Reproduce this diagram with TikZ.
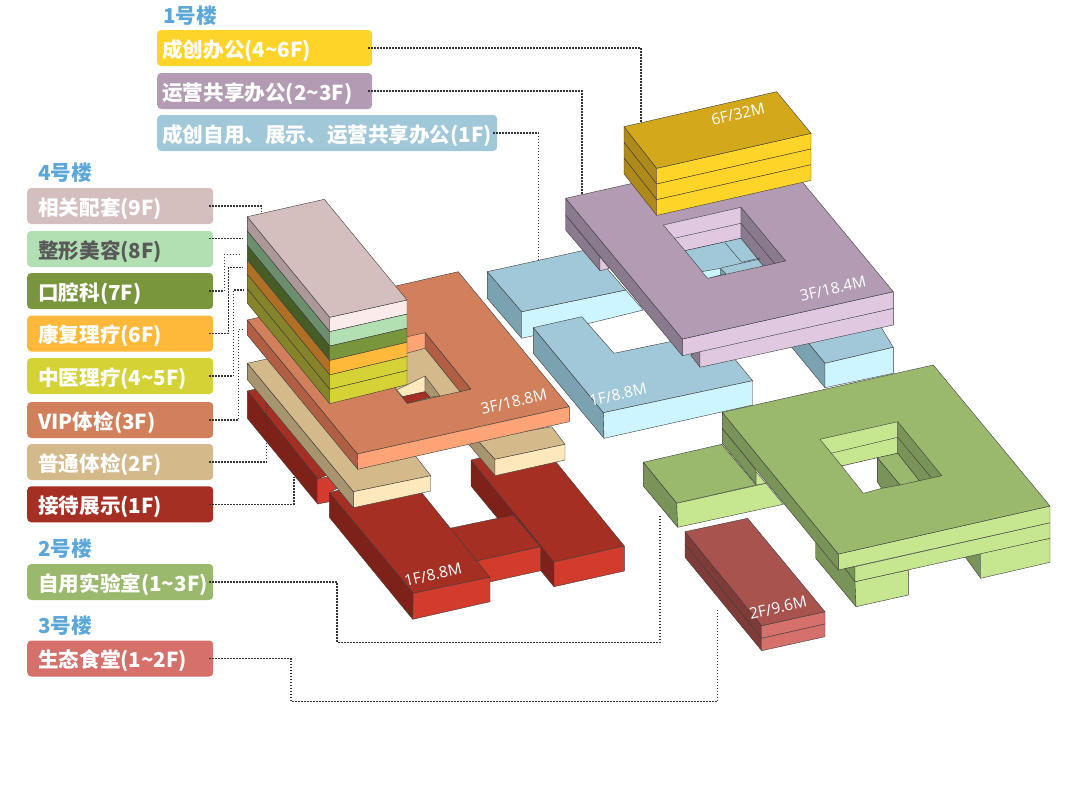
\documentclass[tikz,border=0pt]{standalone}
\usepackage{fontspec}
\setmainfont{Noto Sans CJK SC}
\newfontfamily\tagfont{Open Sans}
\definecolor{headblue}{HTML}{5BA7D8}
\definecolor{edgegray}{HTML}{3C3C3C}
\definecolor{redtop}{HTML}{A52F22}\definecolor{redleft}{HTML}{7E2219}\definecolor{redfront}{HTML}{D33B2C}
\definecolor{tantop}{HTML}{D4B98A}\definecolor{tanleft}{HTML}{A8946F}\definecolor{tanfront}{HTML}{FCE8BA}
\definecolor{corltop}{HTML}{D27F5B}\definecolor{corlleft}{HTML}{B05F45}\definecolor{corlfront}{HTML}{FFA477}
\definecolor{rosetop}{HTML}{D5BEBE}\definecolor{roseleft}{HTML}{AD9898}\definecolor{rosefront}{HTML}{FBECEB}
\definecolor{mintleft}{HTML}{6B8E6D}\definecolor{mintfront}{HTML}{B3E0B3}
\definecolor{oliveleft}{HTML}{465D26}\definecolor{olivefront}{HTML}{7A963D}
\definecolor{ambrleft}{HTML}{AF7026}\definecolor{ambrfront}{HTML}{FFB93A}
\definecolor{limeleft}{HTML}{85842A}\definecolor{limefront}{HTML}{D5D236}
\definecolor{goldtop}{HTML}{D3A81B}\definecolor{goldleft}{HTML}{AE8A1A}\definecolor{goldfront}{HTML}{FFD428}
\definecolor{plumtop}{HTML}{B39BB3}\definecolor{plumleft}{HTML}{8A7A8E}\definecolor{plumfront}{HTML}{E0C8E0}
\definecolor{skytop}{HTML}{A0C8D8}\definecolor{skyleft}{HTML}{7BA2B0}\definecolor{skyfront}{HTML}{CCF5FF}
\definecolor{leaftop}{HTML}{9BB96C}\definecolor{leafleft}{HTML}{7A9358}\definecolor{leaffront}{HTML}{C6E68F}
\definecolor{bricktop}{HTML}{A9534F}\definecolor{brickleft}{HTML}{7E3B38}\definecolor{brickfront}{HTML}{D5706A}
\tikzset{
  face/.style={draw=edgegray, line width=0.4pt, line join=round},
  tagbox/.style={rounded corners=4, anchor=west, minimum height=36, inner ysep=0, text height=20, text depth=2,
    align=left, text=white, font=\fontsize{20.6}{24}\selectfont\bfseries},
  tagleft/.style={tagbox, inner xsep=11, text width=164},
  tagtop/.style={tagbox, inner xsep=5},
  heading/.style={anchor=west, inner sep=0, text=headblue, font=\fontsize{20.6}{24}\selectfont\bfseries},
  floortag/.style={rotate=13, text=white, font=\fontsize{15.5}{18}\selectfont\tagfont},
  leader/.style={dash pattern=on 1.5pt off 1.5pt, line width=1.5pt, black!80, shorten <=-4pt},
}
\begin{document}
\begin{tikzpicture}[x=1pt,y=-1pt]
\useasboundingbox (0,0) rectangle (1080,787);

% Building 4, floor 1
\draw[face,fill=redtop] (247.3,391) -- (295,380) -- (340,470) -- (317.7,479) -- cycle;
\draw[face,fill=redleft] (247.3,391) -- (247.3,418.3) -- (317.7,504) -- (317.7,479) -- cycle;
\draw[face,fill=redfront] (317.7,479) -- (328.3,476.7) -- (337.3,488.3) -- (329.3,492.7) -- (329.3,501.7) -- (317.7,504) -- cycle;
\draw[face,fill=redleft] (471,460) -- (554,562) -- (554,586.7) -- (471,486) -- cycle;
\draw[face,fill=redtop] (450,528.3) -- (513.3,515) -- (540.7,546.7) -- (476.7,561) -- cycle;
\draw[face,fill=redfront] (476.7,561) -- (540.7,546.7) -- (540.7,570.7) -- (490.7,581.7) -- cycle;
\draw[face,fill=redtop] (471,460) -- (541.3,444) -- (624.3,546) -- (554,562) -- cycle;
\draw[face,fill=redfront] (554,562) -- (624.3,546) -- (624.3,571) -- (554,586.7) -- cycle;
\draw[face,fill=redtop] (329.3,492.7) -- (405,472) -- (490,577.3) -- (413.3,593.3) -- cycle;
\draw[face,fill=redleft] (329.3,492.7) -- (329.3,517.3) -- (412.7,619.3) -- (413.3,593.3) -- cycle;
\draw[face,fill=redfront] (413.3,593.3) -- (490,577.3) -- (490,601.7) -- (412.7,619.3) -- cycle;

% Building 4, floor 2
\draw[face,fill=tantop] (247.3,363.3) -- (330,345) -- (430.7,475.7) -- (353.3,491.7) -- cycle;
\draw[face,fill=tanleft] (247.3,363.3) -- (247.3,379.5) -- (353.3,507.7) -- (353.3,491.7) -- cycle;
\draw[face,fill=tanfront] (353.3,491.7) -- (430.7,475.7) -- (430.7,491) -- (353.3,507.7) -- cycle;
\draw[face,fill=tantop] (477,440) -- (551.7,426.7) -- (565,444.3) -- (495,459.3) -- cycle;
\draw[face,fill=tanleft] (469.3,445) -- (495,475.7) -- (495,459.3) -- (477,440) -- cycle;
\draw[face,fill=tanfront] (495,459.3) -- (565,444.3) -- (565,460) -- (495,475.7) -- cycle;

% Building 4, floor 3 and its court
\draw[face,fill=corltop] (247.3,320) -- (458.3,271.7) -- (569.3,406.7) -- (357.3,454) -- cycle;
\draw[face,fill=corlleft] (247.3,320) -- (247.3,335) -- (357.7,469.3) -- (357.3,454) -- cycle;
\draw[face,fill=corlfront] (357.3,454) -- (569.3,406.7) -- (569.3,421.7) -- (357.7,469.3) -- cycle;
\draw[face,fill=corlfront] (361.6,347) -- (425,332.7) -- (470.7,389) -- (407.3,403.3) -- cycle;
\draw[face,fill=corlleft] (425,332.7) -- (470.7,389) -- (460,391.7) -- (425,348.3) -- cycle;
\draw[face,fill=tantop] (374,362) -- (425,348.3) -- (460,391.7) -- (407.3,403.3) -- cycle;
\draw[face,fill=tanfront] (396.7,390) -- (425,376) -- (425,391.7) -- (402.7,396.7) -- cycle;
\draw[face,fill=tanleft] (425,376) -- (440,396) -- (430,397.3) -- (425,391.7) -- cycle;
\draw[face,fill=redtop] (402.7,396.7) -- (425,391.7) -- (430,397.3) -- (407.3,403.3) -- cycle;

% Building 4, tower
\foreach \i/\sidecol/\frontcol in {0/roseleft/rosefront,1/mintleft/mintfront,2/oliveleft/olivefront,
    3/ambrleft/ambrfront,4/limeleft/limefront,5/limeleft/limefront}{
  \draw[face,fill=\sidecol] (247.3,216.7+14.4*\i) -- (329.7,317.3+14.4*\i) -- (329.7,331.7+14.4*\i) -- (247.3,231.1+14.4*\i) -- cycle;
  \draw[face,fill=\frontcol] (329.7,317.3+14.4*\i) -- (407,300+14.1*\i) -- (407,314.1+14.1*\i) -- (329.7,331.7+14.4*\i) -- cycle;
}
\draw[face,fill=rosetop] (247.3,216.7) -- (324.3,199.3) -- (407,300) -- (329.7,317.3) -- cycle;

% Building 1, floor 1
\draw[face,fill=skyleft] (487.3,271.7) -- (487.3,298.3) -- (521.7,338.3) -- (521.7,311.7) -- cycle;
\draw[face,fill=skyfront] (521.7,311.7) -- (625.7,290) -- (643.3,310) -- (589.3,323.3) -- (521.7,338.3) -- cycle;
\draw[face,fill=skytop] (487.3,271.7) -- (590,249) -- (625.7,290) -- (521.7,311.7) -- cycle;
\draw[face,fill=skytop] (533.3,327.7) -- (581.7,316.7) -- (614,353.3) -- (670,341.7) -- (712,332) -- (752.7,380.7) -- (603.3,412.7) -- cycle;
\draw[face,fill=skyleft] (533.3,327.7) -- (533.3,353.3) -- (604,438.3) -- (603.3,412.7) -- cycle;
\draw[face,fill=skyfront] (603.3,412.7) -- (752.7,380.7) -- (752.7,405) -- (604,438.3) -- cycle;
\draw[face,fill=skytop] (800,333) -- (870,309) -- (893.3,347.3) -- (825,363.3) -- cycle;
\draw[face,fill=skyleft] (780,333) -- (825,387.7) -- (825,363.3) -- (800,333) -- cycle;
\draw[face,fill=skyfront] (825,363.3) -- (893.3,347.3) -- (893.3,373.3) -- (825,387.7) -- cycle;

% Building 1, floors 2 and 3
\draw[face,fill=plumleft] (565.7,215) -- (565.7,230) -- (600,270.7) -- (600,257) -- cycle;
\draw[face,fill=plumfront] (600,257) -- (609.3,268.3) -- (600,270.7) -- cycle;
\draw[face,fill=plumleft] (690.7,355) -- (700,367.3) -- (700,350) -- cycle;
\draw[face,fill=plumfront] (700,350) -- (893.3,308.3) -- (893.3,325) -- (700,367.3) -- cycle;
\draw[face,fill=plumleft] (565.7,198.3) -- (565.7,215) -- (682.3,355.7) -- (682.3,339) -- cycle;
\draw[face,fill=plumfront] (682.3,339) -- (893.3,291.7) -- (893.3,308.3) -- (682.3,355.7) -- cycle;
\draw[face,fill=plumtop] (565.7,198.3) -- (776.7,151) -- (893.3,291.7) -- (682.3,339) -- cycle;
% court
\draw[face,fill=plumfront] (663.3,225) -- (741,207.3) -- (741,238.3) -- (685,250.7) -- cycle;
\draw[face] (674.3,238.3) -- (741,223.3);
\draw[face,fill=plumleft] (741,207.3) -- (785.7,261) -- (763.3,266) -- (741,238.3) -- cycle;
\draw[face] (741,223.3) -- (775,264);
\draw[face,fill=skytop] (685,250.7) -- (741,238.3) -- (763.3,266) -- (707.7,278.3) -- cycle;
\draw[face] (725,242.7) -- (741.7,262.3) -- (760,258);
\draw[face,fill=skyfront] (701.7,271.7) -- (720.7,268.3) -- (720.7,275) -- (707.7,278.3) -- cycle;
\draw[face,fill=skyleft] (720.7,268.3) -- (726,274) -- (720.7,275) -- cycle;
\draw[face] (721.7,267.7) -- (760,259);

% Building 1, floors 4 to 6
\foreach \i in {0,1,2}{
  \draw[face,fill=goldleft] (624,126.7+15.7*\i) -- (656.7,168.3+15.7*\i) -- (656.7,184+15.7*\i) -- (624,142.4+15.7*\i) -- cycle;
  \draw[face,fill=goldfront] (656.7,168.3+15.7*\i) -- (811,133.3+15.7*\i) -- (811,149+15.7*\i) -- (656.7,184+15.7*\i) -- cycle;
}
\draw[face,fill=goldtop] (624,126.7) -- (776.7,91.7) -- (811,133.3) -- (656.7,168.3) -- cycle;

% Building 2
\draw[face,fill=leaftop] (643.3,462.3) -- (721.7,444.3) -- (756,485) -- (676.7,503.3) -- cycle;
\draw[face,fill=leafleft] (643.3,462.3) -- (643.3,486) -- (677.7,527.3) -- (676.7,503.3) -- cycle;
\draw[face,fill=leaffront] (676.7,503.3) -- (766,483.3) -- (783.3,504.3) -- (677.7,527.3) -- cycle;
\draw[face,fill=leaffront] (756,471.7) -- (766,483.3) -- (756,485) -- cycle;
\draw[face,fill=leafleft] (722.3,428.3) -- (722.3,443.3) -- (756,484) -- (756,470) -- cycle;
\draw[face,fill=leafleft] (815.7,542) -- (815.7,558.3) -- (856,606.7) -- (856,581.7) -- (845,568.3) -- cycle;
\draw[face,fill=leaffront] (855,581.7) -- (908.3,570) -- (908.3,595) -- (856,606.7) -- cycle;
\draw[face,fill=leafleft] (965,556.7) -- (980.7,553.3) -- (980.7,578.3) -- cycle;
\draw[face,fill=leaffront] (980.7,553.3) -- (1050,538.3) -- (1050,562.3) -- (980.7,578.3) -- cycle;
\draw[face,fill=leafleft] (845,568.3) -- (855,581.7) -- (855,566.7) -- cycle;
\draw[face,fill=leaffront] (855,566.7) -- (1050,522.7) -- (1050,538.3) -- (855,581.7) -- cycle;
\draw[face,fill=leafleft] (722.3,412.3) -- (722.3,428.3) -- (838.3,570) -- (838.3,554) -- cycle;
\draw[face,fill=leaffront] (838.3,554) -- (1050,506) -- (1050,522.7) -- (838.3,570) -- cycle;
\draw[face,fill=leaftop] (722.3,412.3) -- (933.3,365) -- (1050,506) -- (838.3,554) -- cycle;
% court
\draw[face,fill=leaffront] (820,439.3) -- (897.7,421.7) -- (897.7,453.3) -- (841.7,466) -- cycle;
\draw[face] (831,453.3) -- (897.7,437.3);
\draw[face,fill=leafleft] (897.7,421.7) -- (941.7,475.7) -- (919.3,480.7) -- (897.7,453.3) -- cycle;
\draw[face] (897.7,437.3) -- (931,477.3);
\draw[face,fill=white] (841.7,466) -- (877.3,457.7) -- (877.3,481.7) -- (881.7,488.3) -- (863.3,493.3) -- cycle;
\draw[face,fill=leaftop] (877.3,457.7) -- (897.7,453.3) -- (919.3,480.7) -- (900,485) -- cycle;
\draw[face,fill=leafleft] (877.3,457.7) -- (900,485) -- (881.7,488.3) -- (877.3,481.7) -- cycle;

% Building 3
\draw[face,fill=brickleft] (685,531.7) -- (685,544.3) -- (761.7,638.3) -- (761.7,625.7) -- cycle;
\draw[face,fill=brickleft] (685,544.3) -- (685,557.3) -- (761.7,650.7) -- (761.7,638.3) -- cycle;
\draw[face,fill=brickfront] (761.7,625.7) -- (825,611.7) -- (825,624) -- (761.7,638.3) -- cycle;
\draw[face,fill=brickfront] (761.7,638.3) -- (825,624) -- (825,636.7) -- (761.7,650.7) -- cycle;
\draw[face,fill=bricktop] (685,531.7) -- (747.7,518.3) -- (825,611.7) -- (761.7,625.7) -- cycle;

% Floor tags
\node[floortag] (tagGold) at (738,114) {6F/32M};
\node[floortag] (tagCorl) at (514,402) {3F/18.8M};
\node[floortag] (tagRed) at (433,575) {1F/8.8M};
\node[floortag] (tagPlum) at (833,289) {3F/18.4M};
\node[floortag] (tagSky) at (618,395) {1F/8.8M};
\node[floortag] (tagBrick) at (778,608) {2F/9.6M};

% Legend, building 1
\node[heading] (headOne) at (163,16) {1号楼};
\node[tagtop,fill=goldfront,minimum width=215,text width=205] (office) at (157,48) {成创办公(4\char"007E 6F)};
\node[tagtop,fill=plumtop,minimum width=215,text width=205] (shared) at (157,91) {运营共享办公(2\char"007E 3F)};
\node[tagtop,fill=skytop,minimum width=340,text width=330] (display) at (157,133) {成创自用、展示、运营共享办公(1F)};

% Legend, building 4
\node[heading] (headFour) at (38,173) {4号楼};
\node[tagleft,fill=rosetop] (nine) at (27,206) {相关配套(9F)};
\node[tagleft,fill=mintfront,text=black!65] (eight) at (27,249) {整形美容(8F)};
\node[tagleft,fill=olivefront] (seven) at (27,291) {口腔科(7F)};
\node[tagleft,fill=ambrfront] (six) at (27,333.5) {康复理疗(6F)};
\node[tagleft,fill=limefront] (five) at (27,376) {中医理疗(4\char"007E 5F)};
\node[tagleft,fill=corltop] (three) at (27,420) {VIP体检(3F)};
\node[tagleft,fill=tantop] (two) at (27,462) {普通体检(2F)};
\node[tagleft,fill=redtop] (one) at (27,504.3) {接待展示(1F)};

% Legend, buildings 2 and 3
\node[heading] (headTwo) at (38,549) {2号楼};
\node[tagleft,fill=leaftop] (lab) at (27,582) {自用实验室(1\char"007E 3F)};
\node[heading] (headThree) at (38,626) {3号楼};
\node[tagleft,fill=brickfront] (canteen) at (27,658.5) {生态食堂(1\char"007E 2F)};

% Leader ends
\coordinate (endOffice) at (641,122);
\coordinate (endShared) at (582,195);
\coordinate (endDisplay) at (538.5,260);
\coordinate (endNine) at (261.7,213);
\coordinate (endEight) at (242.7,238.3);
\coordinate (endSeven) at (241.7,254.3);
\coordinate (endSix) at (242.7,267.3);
\coordinate (endFive) at (244,290);
\coordinate (endThree) at (242.7,329.3);
\coordinate (endTwo) at (266.7,403);
\coordinate (endOne) at (294,476.7);
\coordinate (endLab) at (660,515);
\coordinate (endCanteen) at (717.7,609.3);

% Leaders
\draw[leader] (office.east) -| (endOffice);
\draw[leader] (shared.east) -| (endShared);
\draw[leader] (display.east) -| (endDisplay);
\draw[leader] (nine.east) -| (endNine);
\draw[leader] ([yshift=10.7]eight.east) -- (endEight);
\draw[leader] (seven.east) -- ++(11,0) |- (endSeven);
\draw[leader] (six.east) -- ++(15,0) |- (endSix);
\draw[leader] (five.east) -- ++(20,0) |- (endFive);
\draw[leader] (three.east) -- ++(25,0) |- (endThree);
\draw[leader] (two.east) -| (endTwo);
\draw[leader] (one.east) -| (endOne);
\draw[leader] (lab.east) -- ++(123.7,0) |- (660,642.3) -- (endLab);
\draw[leader] (canteen.east) -- ++(77.7,0) |- (717.7,701.7) -- (endCanteen);
\end{tikzpicture}
\end{document}
